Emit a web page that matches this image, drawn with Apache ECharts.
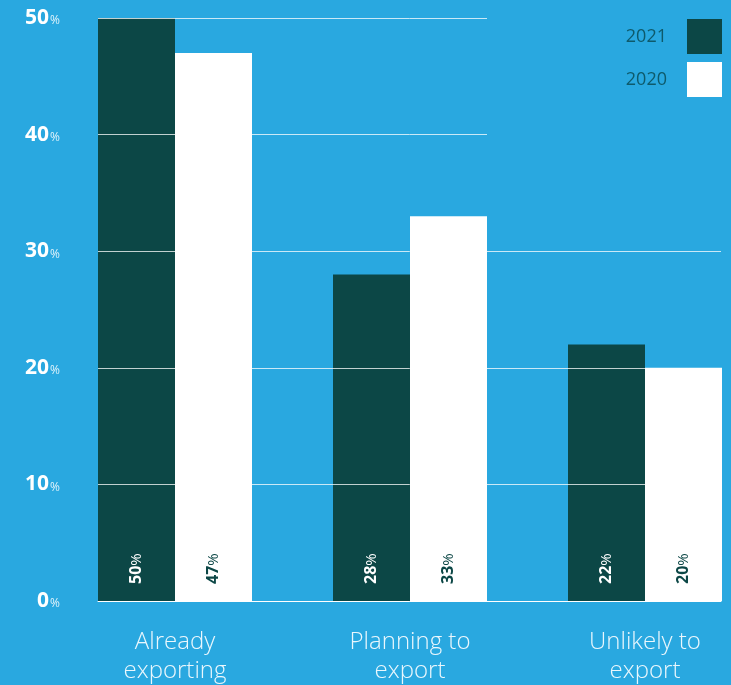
<!DOCTYPE html>
<html>
<head>
<meta charset="utf-8">
<script src="https://cdn.jsdelivr.net/npm/echarts@6/dist/echarts.min.js"></script>
<style>
html,body{margin:0;padding:0;background:#29A8E0;}
#main{width:731px;height:685px;}
</style>
</head>
<body>
<div id="main"></div>
<script>
const categories = ['Already exporting', 'Planning to export', 'Unlikely to export'];
const values2021 = [50, 28, 22];
const values2020 = [47, 33, 20];
const seriesNames = ['2021', '2020'];
const yTicks = [0, 10, 20, 30, 40, 50];

const BG = '#29A8E0';
const DARK = '#0C4746';
const FONT = '"Open Sans", Lato, "Noto Sans", sans-serif';

const chart = echarts.init(document.getElementById('main'), null, {renderer: 'canvas'});

function barLabel(color) {
  return {
    show: true,
    position: 'insideBottom',
    distance: 17,
    rotate: 90,
    align: 'left',
    verticalAlign: 'middle',
    formatter: p => '{v|' + p.value + '}{p|%}',
    rich: {
      v: {fontSize: 16, fontWeight: 'bold', color: color, fontFamily: FONT},
      p: {fontSize: 15, fontWeight: 'normal', color: color, fontFamily: FONT}
    }
  };
}

chart.setOption({
  backgroundColor: BG,
  animation: false,
  grid: [
    {left: 98, right: 10, top: 18, bottom: 84, outerBoundsMode: 'none', containLabel: false},
    {left: 57.5, width: 705, top: 18, bottom: 84, outerBoundsMode: 'none', containLabel: false}
  ],
  legend: {
    orient: 'vertical',
    right: 9,
    top: 19,
    padding: 0,
    align: 'right',
    itemWidth: 35,
    itemHeight: 35,
    itemGap: 8,
    icon: 'rect',
    z: 20,
    textStyle: {color: '#0E5A6B', fontSize: 18, fontFamily: FONT, padding: [0, 15, 0, 0]},
    data: seriesNames
  },
  graphic: [{
    type: 'rect',
    z: 8,
    silent: true,
    shape: {x: 487, y: 0, width: 244, height: 235},
    style: {fill: BG}
  }],
  xAxis: [
    {
      gridIndex: 0,
      type: 'category',
      data: categories,
      axisLine: {show: true, lineStyle: {color: '#ffffff', width: 1}},
      axisTick: {show: false},
      axisLabel: {show: false},
      z: 5
    },
    {
      gridIndex: 1,
      type: 'category',
      data: categories,
      axisLine: {show: false},
      axisTick: {show: false},
      axisLabel: {
        show: true,
        margin: 27,
        fontSize: 24,
        lineHeight: 29,
        fontWeight: 300,
        color: '#EAF7FD',
        fontFamily: FONT,
        formatter: v => {
          const i = v.lastIndexOf(' ');
          return v.slice(0, i) + '\n' + v.slice(i + 1);
        }
      }
    }
  ],
  yAxis: [
    {
      gridIndex: 0,
      type: 'value',
      min: yTicks[0],
      max: yTicks[yTicks.length - 1],
      interval: 10,
      z: 5,
      axisLine: {show: false},
      axisTick: {show: false},
      splitLine: {show: true, lineStyle: {color: 'rgba(255,255,255,0.75)', width: 1}},
      axisLabel: {
        margin: 38,
        formatter: v => '{v|' + v + '}{p|%}',
        rich: {
          v: {fontSize: 21, fontWeight: 'bold', color: '#ffffff', fontFamily: FONT},
          p: {fontSize: 12, color: 'rgba(255,255,255,0.85)', fontFamily: FONT, padding: [6, 0, 0, 1]}
        }
      }
    },
    {
      gridIndex: 1,
      type: 'value',
      min: yTicks[0],
      max: yTicks[yTicks.length - 1],
      interval: 10,
      show: false,
      splitLine: {show: false}
    }
  ],
  series: [
    {
      name: seriesNames[0],
      type: 'bar',
      xAxisIndex: 1,
      yAxisIndex: 1,
      data: values2021,
      barWidth: 77,
      barGap: '0%',
      z: 2,
      itemStyle: {color: DARK},
      label: barLabel('#ffffff')
    },
    {
      name: seriesNames[1],
      type: 'bar',
      xAxisIndex: 1,
      yAxisIndex: 1,
      data: values2020,
      barWidth: 77,
      barGap: '0%',
      z: 2,
      itemStyle: {color: '#ffffff'},
      label: barLabel(DARK)
    }
  ]
});
</script>
</body>
</html>
